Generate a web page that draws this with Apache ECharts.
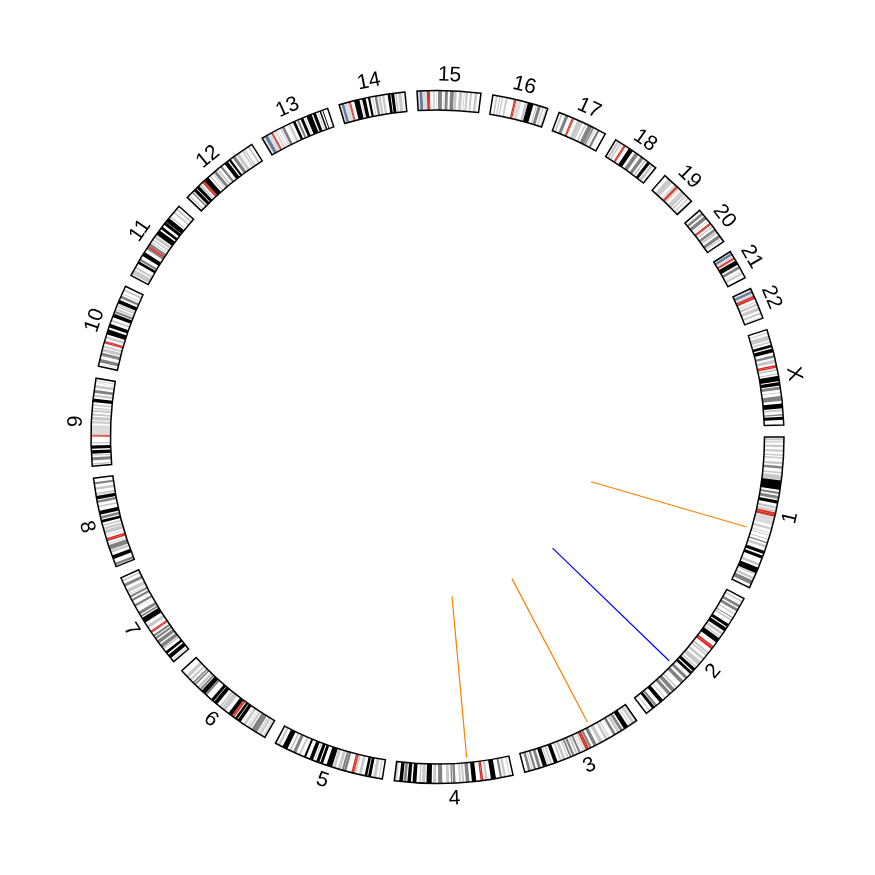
<!DOCTYPE html>
<html><head><meta charset="utf-8">
<script src="https://cdn.jsdelivr.net/npm/echarts@6/dist/echarts.min.js"></script>
<style>html,body{margin:0;padding:0;background:#fff}#c{width:875px;height:875px}</style>
</head><body><div id="c"></div>
<script>
// ---------- DATA ----------
const chromNames = ['1','2','3','4','5','6','7','8','9','10','11','12','13','14','15','16','17','18','19','20','21','22','X'];
const chromLengths = [249.25,243.2,198.0,191.15,180.9,171.1,159.1,146.4,141.2,135.5,135.0,133.9,115.2,107.3,102.5,90.4,81.2,78.1,59.1,63.0,48.1,51.3,155.3]; // Mb

// cytobands: [band end (Mb), stain]
const chr1Bands = [[2.3,'n'],[5.4,'g25'],[7.2,'n'],[9.2,'g25'],[12.7,'n'],[16.2,'g50'],[20.4,'n'],[23.9,'g25'],[28,'n'],[30.2,'g25'],[32.4,'n'],[34.6,'g25'],[40.1,'n'],[44.1,'g25'],[46.8,'n'],[50.7,'g75'],[56.1,'n'],[59,'g50'],[61.3,'n'],[68.9,'g50'],[69.7,'n'],[84.9,'g100'],[88.4,'n'],[92,'g75'],[94.7,'n'],[99.7,'g75'],[102.2,'n'],[107.2,'g100'],[111.8,'n'],[116.1,'g50'],[117.8,'n'],[120.7,'g50'],[121.5,'n'],[125,'acen'],[128.9,'acen'],[142.6,'gvar'],[147,'n'],[150.3,'g50'],[155,'n'],[156.5,'g50'],[159.1,'n'],[160.5,'g50'],[165.5,'n'],[167.2,'g50'],[170.9,'n'],[172.9,'g75'],[176,'n'],[180.3,'g50'],[185.8,'n'],[190.8,'g100'],[193.8,'n'],[198.7,'g100'],[207.2,'n'],[211.5,'g25'],[214.5,'n'],[224.1,'g100'],[224.6,'n'],[227,'g25'],[230.7,'n'],[234.7,'g50'],[236.6,'n'],[243.7,'g75'],[249.25,'n']];
const chr2Bands = [[4.4,'n'],[7.1,'g50'],[12.2,'n'],[16.7,'g75'],[19.2,'n'],[24,'g75'],[27.9,'n'],[30,'g25'],[35.1,'n'],[36.6,'g75'],[38.6,'n'],[41.6,'g50'],[47.8,'n'],[52.9,'g100'],[55,'n'],[61.3,'g100'],[64.1,'n'],[68.6,'g50'],[71.5,'n'],[73.5,'g50'],[75,'n'],[83.3,'g100'],[90.5,'n'],[93.3,'acen'],[96.8,'acen'],[102.7,'n'],[106,'g50'],[107.5,'n'],[110.2,'g25'],[114.4,'n'],[118.8,'g50'],[122.4,'n'],[129.9,'g50'],[132.5,'n'],[135.1,'g25'],[136.8,'n'],[142.2,'g100'],[144.1,'n'],[148.7,'g100'],[149.9,'n'],[150.5,'g25'],[154.9,'n'],[159.8,'g75'],[163.7,'n'],[169.7,'g75'],[178,'n'],[180.6,'g50'],[183,'n'],[189.4,'g75'],[191.9,'n'],[197.4,'g75'],[203.3,'n'],[204.9,'g50'],[209,'n'],[215.3,'g100'],[221.5,'n'],[225.2,'g75'],[226.1,'n'],[231,'g100'],[235.6,'n'],[237.3,'g50'],[243.2,'n']];
const chr3Bands = [[2.8,'g50'],[4,'n'],[8.7,'g50'],[11.8,'n'],[13.3,'g25'],[16.4,'n'],[23.9,'g100'],[26.4,'n'],[30.9,'g75'],[32.1,'n'],[36.5,'g50'],[39.3,'n'],[43.7,'g75'],[44.1,'n'],[44.2,'g50'],[50.6,'n'],[52.3,'g25'],[54.4,'n'],[58.6,'g50'],[63.7,'n'],[69.8,'g50'],[74.2,'n'],[79.8,'g75'],[83.5,'n'],[87.2,'g75'],[87.9,'n'],[91,'acen'],[93.9,'acen'],[98.3,'gvar'],[100,'n'],[100.9,'g25'],[102.8,'n'],[106.2,'g75'],[107.9,'n'],[111.3,'g50'],[113.5,'n'],[117.3,'g75'],[119,'n'],[121.9,'g75'],[123.8,'n'],[125.8,'g25'],[129.2,'n'],[133.7,'g25'],[135.7,'n'],[138.7,'g25'],[142.8,'n'],[148.9,'g100'],[152.1,'n'],[155,'g50'],[157,'n'],[159,'g50'],[160.7,'n'],[167.6,'g100'],[170.9,'n'],[175.7,'g75'],[179,'n'],[182.7,'g75'],[184.5,'n'],[186,'g25'],[187.9,'n'],[192.3,'g75'],[198,'n']];
const chr4Bands = [[4.5,'n'],[6,'g25'],[11.3,'n'],[15.2,'g50'],[17.8,'n'],[21.3,'g75'],[27.7,'n'],[35.8,'g100'],[41.2,'n'],[44.6,'g50'],[48.2,'n'],[50.4,'acen'],[52.7,'acen'],[59.5,'n'],[66.6,'g100'],[70.5,'n'],[76.3,'g75'],[78.9,'n'],[82.4,'g50'],[84.1,'n'],[86.9,'g25'],[92.8,'n'],[96.8,'g75'],[97.9,'n'],[100.1,'g75'],[103,'n'],[107.7,'g50'],[114.1,'n'],[120.8,'g75'],[123.8,'n'],[128.8,'g50'],[131.1,'n'],[139.5,'g100'],[141.5,'n'],[146.8,'g25'],[148.5,'n'],[151.1,'g25'],[155.6,'n'],[161.8,'g100'],[164.5,'n'],[170.1,'g100'],[171.9,'n'],[176.3,'g75'],[177.5,'n'],[183.2,'g100'],[187.1,'n'],[191.15,'g25']];
const chr5Bands = [[4.5,'n'],[6.3,'g25'],[9.8,'n'],[15,'g50'],[18.4,'n'],[23.3,'g100'],[24.6,'n'],[28.9,'g100'],[33.8,'n'],[38.4,'g25'],[42.5,'n'],[46.1,'g50'],[48.4,'acen'],[50.7,'acen'],[58.9,'n'],[62.9,'g75'],[63.2,'n'],[66.7,'g75'],[68.4,'n'],[73.3,'g50'],[76.9,'n'],[81.4,'g50'],[82.8,'n'],[92.3,'g100'],[98.2,'n'],[102.8,'g100'],[104.5,'n'],[109.6,'g100'],[111.5,'n'],[113.1,'g50'],[115.2,'n'],[121.4,'g100'],[127.3,'n'],[130.6,'g100'],[136.2,'n'],[139.5,'g25'],[144.5,'n'],[149.8,'g75'],[152.7,'n'],[155.7,'g50'],[159.9,'n'],[168.5,'g100'],[172.8,'n'],[176.6,'g25'],[180.9,'n']];
const chr6Bands = [[2.3,'n'],[4.2,'g25'],[7.1,'n'],[10.6,'g50'],[11.6,'n'],[13.4,'g25'],[15.2,'n'],[25.2,'g75'],[27,'n'],[30.4,'g50'],[32.1,'n'],[33.5,'g25'],[36.6,'n'],[40.5,'g25'],[46.2,'n'],[51.8,'g100'],[52.9,'n'],[57,'g100'],[58.7,'n'],[61,'acen'],[63.3,'acen'],[63.4,'n'],[70,'g100'],[75.9,'n'],[83.9,'g50'],[84.9,'n'],[88,'g50'],[93.1,'n'],[99.5,'g100'],[100.6,'n'],[105.5,'g100'],[114.6,'n'],[118.3,'g75'],[118.5,'n'],[126.1,'g100'],[127.1,'n'],[130.3,'g75'],[131.2,'n'],[135.2,'g50'],[139,'n'],[141.7,'g75'],[143,'n'],[145.6,'g75'],[149,'n'],[152.5,'g50'],[155.5,'n'],[161,'g50'],[171.1,'n']];
const chr7Bands = [[2.8,'n'],[4.5,'g25'],[7.3,'n'],[13.8,'g100'],[16.5,'n'],[20.9,'g100'],[25.5,'n'],[28,'g50'],[28.8,'n'],[35,'g75'],[37.2,'n'],[43.3,'g75'],[45.4,'n'],[49,'g75'],[50.5,'n'],[54,'g75'],[58,'n'],[59.9,'acen'],[61.7,'acen'],[67,'n'],[72.2,'g50'],[77.5,'n'],[86.4,'g100'],[88.2,'n'],[91.1,'g75'],[92.8,'n'],[98,'g75'],[103.8,'n'],[104.5,'g50'],[107.4,'n'],[111.2,'g75'],[117.4,'n'],[121.1,'g75'],[123.8,'n'],[127.1,'g75'],[129.2,'n'],[130.4,'g25'],[132.6,'n'],[138.2,'g50'],[143.4,'n'],[148,'g75'],[152.6,'n'],[155.1,'g25'],[159.1,'n']];
const chr8Bands = [[2.2,'n'],[6.2,'g75'],[12.7,'n'],[19,'g100'],[23.3,'n'],[27.4,'g50'],[28.8,'n'],[36.5,'g75'],[38.3,'n'],[39.7,'g25'],[43.1,'n'],[45.6,'acen'],[48.1,'acen'],[52.2,'n'],[52.6,'g75'],[55.5,'n'],[61.6,'g50'],[62.2,'n'],[66,'g50'],[68,'n'],[70.5,'g50'],[73.9,'n'],[78.3,'g100'],[80.1,'n'],[84.6,'g75'],[86.9,'n'],[93.3,'g100'],[99,'n'],[101.6,'g25'],[106.2,'n'],[110.5,'g75'],[112.1,'n'],[117.7,'g100'],[119.2,'n'],[122.5,'g50'],[127.3,'n'],[131.5,'g50'],[136.4,'n'],[139.9,'g75'],[146.4,'n']];
const chr9Bands = [[2.2,'n'],[4.6,'g25'],[9,'n'],[14.2,'g75'],[16.6,'n'],[18.5,'g25'],[19.9,'n'],[25.6,'g100'],[28,'n'],[33.2,'g100'],[36.3,'n'],[38.4,'g25'],[47.3,'n'],[49,'acen'],[50.7,'acen'],[65.9,'gvar'],[68.7,'n'],[72.2,'g25'],[74,'n'],[79.2,'g50'],[81.1,'n'],[84.1,'g50'],[86.9,'n'],[90.4,'g50'],[91.8,'n'],[93.9,'g25'],[96.6,'n'],[99.3,'g25'],[102.6,'n'],[108.2,'g100'],[111.3,'n'],[114.9,'g25'],[117.8,'n'],[122.5,'g75'],[125.8,'n'],[130.3,'g25'],[133.5,'n'],[134,'g25'],[135.9,'n'],[137.4,'g25'],[141.2,'n']];
const chr10Bands = [[3,'n'],[3.8,'g25'],[6.6,'n'],[12.2,'g75'],[17.3,'n'],[18.6,'g75'],[18.7,'n'],[22.6,'g75'],[24.6,'n'],[29.6,'g50'],[31.3,'n'],[34.4,'g25'],[38,'n'],[40.2,'acen'],[42.3,'acen'],[46.1,'n'],[49.9,'g25'],[52.9,'n'],[61.2,'g100'],[64.5,'n'],[70.6,'g100'],[74.9,'n'],[77.7,'g50'],[82,'n'],[87.9,'g100'],[89.5,'n'],[92.9,'g75'],[94.1,'n'],[97,'g50'],[99.3,'n'],[101.9,'g50'],[103,'n'],[104.9,'g25'],[105.8,'n'],[111.9,'g100'],[114.9,'n'],[119.1,'g75'],[121.7,'n'],[123.1,'g50'],[127.5,'n'],[130.6,'g50'],[135.5,'n']];
const chr11Bands = [[2.8,'n'],[10.7,'g50'],[12.7,'n'],[16.2,'g50'],[21.7,'n'],[26.1,'g100'],[27.2,'n'],[31,'g75'],[36.4,'n'],[43.4,'g100'],[48.8,'n'],[51.6,'g75'],[53.7,'acen'],[55.7,'acen'],[59.9,'g75'],[61.7,'n'],[63.4,'g25'],[65.9,'n'],[68.4,'g25'],[70.4,'n'],[75.2,'g50'],[77.1,'n'],[85.6,'g100'],[88.3,'n'],[92.8,'g100'],[97.2,'n'],[102.1,'g100'],[102.9,'n'],[110.4,'g100'],[112.5,'n'],[114.5,'g50'],[121.2,'n'],[123.9,'g50'],[127.8,'n'],[130.8,'g50'],[135,'n']];
const chr12Bands = [[3.3,'n'],[5.4,'g25'],[10.1,'n'],[12.8,'g75'],[14.8,'n'],[20,'g100'],[21.3,'n'],[26.5,'g100'],[27.8,'n'],[30.7,'g50'],[33.3,'n'],[35.8,'acen'],[38.2,'acen'],[46.4,'g100'],[49.1,'n'],[51.5,'g25'],[54.9,'n'],[56.6,'g25'],[58.1,'n'],[63.1,'g75'],[65.1,'n'],[67.7,'g50'],[71.5,'n'],[75.3,'g75'],[80.3,'n'],[86.7,'g100'],[89,'n'],[92.6,'g100'],[96.2,'n'],[101.6,'g75'],[103.8,'n'],[109,'g50'],[111.7,'n'],[112.3,'g25'],[114.3,'n'],[116.8,'g50'],[118.1,'n'],[120.7,'g50'],[125.9,'n'],[129.3,'g50'],[133.9,'n']];
const chr13Bands = [[4.5,'gvar'],[10,'stalk'],[16.3,'gvar'],[17.9,'acen'],[19.5,'acen'],[23.3,'n'],[25.5,'g25'],[27.8,'n'],[28.9,'g25'],[32.2,'n'],[34,'g50'],[35.5,'n'],[40.1,'g75'],[45.2,'n'],[45.8,'g25'],[47.3,'n'],[50.9,'g50'],[55.3,'n'],[59.6,'g100'],[62.3,'n'],[65.7,'g75'],[68.6,'n'],[73.3,'g100'],[75.4,'n'],[76.5,'g50'],[78.8,'n'],[87.7,'g100'],[90,'n'],[95,'g100'],[98.1,'n'],[99.6,'g25'],[101.3,'n'],[103.7,'g100'],[106,'n'],[107.4,'g100'],[115.2,'n']];
const chr14Bands = [[3.7,'gvar'],[8.1,'stalk'],[16.1,'gvar'],[17.6,'acen'],[19.1,'acen'],[24.6,'n'],[33.3,'g100'],[35.3,'n'],[36.6,'g50'],[37.8,'n'],[43.5,'g100'],[47.2,'n'],[50.9,'g100'],[54.1,'n'],[55.5,'g25'],[58.1,'n'],[62.1,'g75'],[64.1,'n'],[67.9,'g50'],[70.2,'n'],[73.8,'g50'],[79.3,'n'],[83.6,'g100'],[84.9,'n'],[89.8,'g100'],[91.4,'n'],[94,'g25'],[96.3,'n'],[101.4,'g50'],[103.2,'n'],[104,'g50'],[107.3,'n']];
const chr15Bands = [[3.9,'gvar'],[8.7,'stalk'],[15.8,'gvar'],[19,'acen'],[20.7,'acen'],[25.7,'n'],[28.1,'g50'],[30.3,'n'],[31.2,'g50'],[33.6,'n'],[40.1,'g75'],[42.8,'n'],[43.6,'g25'],[44.8,'n'],[49.5,'g75'],[52.9,'n'],[59.1,'g75'],[59.3,'n'],[63.7,'g25'],[67.2,'n'],[67.3,'g25'],[67.5,'n'],[72.7,'g25'],[75.2,'n'],[76.6,'g25'],[78.3,'n'],[81.7,'g50'],[85.2,'n'],[88.3,'g50'],[92.7,'n'],[96.8,'g50'],[102.5,'n']];
const chr16Bands = [[5,'n'],[7.9,'g50'],[10.5,'n'],[12.6,'g50'],[14.8,'n'],[16.8,'g50'],[21.2,'n'],[24.2,'g50'],[34.6,'n'],[36.6,'acen'],[38.6,'acen'],[47,'gvar'],[52.6,'n'],[56.7,'g50'],[57.4,'n'],[66.7,'g100'],[70.8,'n'],[72.9,'g50'],[74.1,'n'],[79.2,'g75'],[81.7,'n'],[84.2,'g50'],[87.1,'n'],[88.7,'g25'],[90.4,'n']];
const chr17Bands = [[3.3,'n'],[6.5,'g50'],[10.7,'n'],[16,'g75'],[22.2,'n'],[24,'acen'],[25.8,'acen'],[31.8,'n'],[38.1,'g50'],[38.4,'n'],[40.9,'g25'],[44.9,'n'],[47.4,'g25'],[50.2,'n'],[57.6,'g75'],[58.3,'n'],[61.1,'g75'],[62.6,'n'],[64.2,'g50'],[67.1,'n'],[70.9,'g75'],[74.8,'n'],[75.3,'g25'],[81.2,'n']];
const chr18Bands = [[2.9,'n'],[7.1,'g50'],[8.5,'n'],[10.9,'g25'],[15.4,'n'],[17.2,'acen'],[19,'acen'],[25,'n'],[32.7,'g100'],[37.2,'n'],[43.5,'g75'],[48.2,'n'],[53.8,'g75'],[56.2,'n'],[59,'g50'],[61.6,'n'],[66.8,'g100'],[68.7,'n'],[73.1,'g25'],[78.1,'n']];
const chr19Bands = [[6.9,'n'],[13.9,'g25'],[14,'n'],[16.3,'g25'],[20,'n'],[24.4,'gvar'],[26.5,'acen'],[28.6,'acen'],[32.4,'gvar'],[35.5,'n'],[38.3,'g25'],[38.7,'n'],[43.4,'g25'],[45.2,'n'],[48,'g25'],[51.4,'n'],[53.6,'g25'],[56.3,'n'],[59.1,'g25']];
const chr20Bands = [[5.1,'n'],[9.2,'g75'],[12.1,'n'],[17.9,'g75'],[21.3,'n'],[22.3,'g25'],[25.6,'n'],[27.5,'acen'],[29.4,'acen'],[32.1,'n'],[34.4,'g25'],[37.6,'n'],[41.7,'g75'],[42.1,'n'],[46.4,'g25'],[49.8,'n'],[55,'g75'],[56.5,'n'],[58.4,'g50'],[63,'n']];
const chr21Bands = [[2.8,'gvar'],[6.8,'stalk'],[10.9,'gvar'],[13.2,'acen'],[14.3,'acen'],[16.4,'n'],[24,'g100'],[26.8,'n'],[31.5,'g75'],[35.3,'n'],[36.4,'g50'],[38.3,'n'],[41.6,'g50'],[48.1,'n']];
const chr22Bands = [[3.8,'gvar'],[8.3,'stalk'],[12.2,'gvar'],[14.7,'acen'],[17.9,'acen'],[22.2,'n'],[23.5,'g25'],[25.9,'n'],[29.6,'g50'],[32.2,'n'],[37.6,'g50'],[41,'n'],[44.2,'g50'],[48.4,'n'],[49.4,'g50'],[51.3,'n']];
const chrXBands = [[4.3,'n'],[6,'g50'],[9.5,'n'],[17.1,'g50'],[19.3,'n'],[21.9,'g50'],[24.9,'n'],[29.3,'g100'],[31.5,'n'],[37.6,'g100'],[42.4,'n'],[46.4,'g75'],[49.8,'n'],[54.8,'g25'],[58.1,'n'],[60.6,'acen'],[63,'acen'],[64.6,'n'],[67.8,'g50'],[71.8,'n'],[73.9,'g50'],[76,'n'],[84.6,'g100'],[86.2,'n'],[91.8,'g100'],[93.5,'n'],[98.3,'g75'],[102.6,'n'],[103.7,'g50'],[108.7,'n'],[116.5,'g75'],[120.9,'n'],[128.7,'g100'],[130.4,'n'],[133.6,'g25'],[138,'n'],[140.3,'g75'],[142.1,'n'],[147.1,'g100'],[155.3,'n']];

// radial line track: chromosome, position (Mb), value (0..1), colour
const lineChrom = ['1','2','3','4'];
const linePos = [157, 157, 71, 71.5];
const lineValue = [1, 1, 1, 1];
const lineColor = ['#FF8000', '#0000FF', '#FF8000', '#FF8000'];

// ---------- BUILD ----------
const chromBands = [chr1Bands,chr2Bands,chr3Bands,chr4Bands,chr5Bands,chr6Bands,chr7Bands,chr8Bands,chr9Bands,chr10Bands,chr11Bands,chr12Bands,chr13Bands,chr14Bands,chr15Bands,chr16Bands,chr17Bands,chr18Bands,chr19Bands,chr20Bands,chr21Bands,chr22Bands,chrXBands];
const stainColor = {n:'#FFFFFF', g25:'rgb(200,200,200)', g50:'rgb(200,200,200)', g75:'rgb(130,130,130)', g100:'#000000', gvar:'rgb(220,220,220)', acen:'rgb(217,47,39)', stalk:'rgb(100,127,164)'};
const GAP_DEG = 2;
const sumLen = chromLengths.reduce((a, b) => a + b, 0);
const TOTAL = sumLen * 360 / (360 - GAP_DEG * chromNames.length);
const GAP = TOTAL * GAP_DEG / 360;
const chromStart = [];
{ let acc = 0; chromLengths.forEach(l => { chromStart.push(acc); acc += l + GAP; }); }

const bandData = [], bandColors = [];
chromBands.forEach((bands, i) => {
  let s = 0;
  bands.forEach(([e, st]) => {
    if (st !== 'n') { bandData.push([1, chromStart[i] + s, chromStart[i] + e]); bandColors.push(stainColor[st]); }
    s = e;
  });
});
const chromData = chromNames.map((n, i) => [1, chromStart[i], chromStart[i] + chromLengths[i]]);
const lineData = lineChrom.map((c, i) => [lineValue[i], chromStart[chromNames.indexOf(c)] + linePos[i]]);

function arcGeom(params, api, a0, a1) {
  const cs = params.coordSys;
  const cx = cs.cx, cy = cs.cy;
  const pi0 = api.coord([0, a0]), po0 = api.coord([1, a0]), pi1 = api.coord([0, a1]);
  const r0 = Math.hypot(pi0[0] - cx, pi0[1] - cy);
  const r = Math.hypot(po0[0] - cx, po0[1] - cy);
  let s = Math.atan2(pi0[1] - cy, pi0[0] - cx);
  let e = Math.atan2(pi1[1] - cy, pi1[0] - cx);
  while (e < s) e += Math.PI * 2;
  return {cx, cy, r0, r, startAngle: s, endAngle: e, clockwise: true};
}

const chart = echarts.init(document.getElementById('c'), null, {renderer: 'canvas'});
const hiddenAngle = {type: 'value', min: 0, max: TOTAL, startAngle: 0, clockwise: true,
  axisLine: {show: false}, axisTick: {show: false}, axisLabel: {show: false}, splitLine: {show: false}};
const hiddenRadius = {type: 'value', min: 0, max: 1,
  axisLine: {show: false}, axisTick: {show: false}, axisLabel: {show: false}, splitLine: {show: false}};

chart.setOption({
  backgroundColor: '#ffffff',
  animation: false,
  polar: [
    {center: [437.5, 437], radius: [327, 346.5]},
    {center: [437.5, 437], radius: [160, 322]}
  ],
  angleAxis: [Object.assign({polarIndex: 0}, hiddenAngle), Object.assign({polarIndex: 1}, hiddenAngle)],
  radiusAxis: [Object.assign({polarIndex: 0}, hiddenRadius), Object.assign({polarIndex: 1}, hiddenRadius)],
  series: [
    {
      type: 'custom', coordinateSystem: 'polar', polarIndex: 0, silent: true,
      data: bandData, encode: {radius: 0, angle: [1, 2]},
      renderItem: (params, api) => ({
        type: 'sector',
        shape: arcGeom(params, api, api.value(1), api.value(2)),
        style: {fill: bandColors[params.dataIndex], lineWidth: 0}
      })
    },
    {
      type: 'custom', coordinateSystem: 'polar', polarIndex: 0, silent: true, z: 3,
      data: chromData, encode: {radius: 0, angle: [1, 2]},
      renderItem: (params, api) => {
        const g = arcGeom(params, api, api.value(1), api.value(2));
        const mid = (g.startAngle + g.endAngle) / 2;
        const lr = g.r + 15.5;
        let th = -mid;
        th = ((th % (2 * Math.PI)) + 2 * Math.PI) % (2 * Math.PI);
        const rot = (th > 0 && th < Math.PI) ? th - Math.PI / 2 : th + Math.PI / 2;
        return {
          type: 'group',
          children: [
            {type: 'sector', shape: g, style: {fill: 'none', stroke: '#000', lineWidth: 1.5}},
            {type: 'text', x: g.cx + lr * Math.cos(mid), y: g.cy + lr * Math.sin(mid), rotation: rot,
              style: {text: chromNames[params.dataIndex], x: 0, y: 0, fill: '#000',
                fontSize: 21, fontFamily: '"Liberation Sans", Arial, sans-serif',
                align: 'center', verticalAlign: 'middle', textAlign: 'center', textVerticalAlign: 'middle'}}
          ]
        };
      }
    },
    {
      type: 'custom', coordinateSystem: 'polar', polarIndex: 1, silent: true,
      data: lineData, encode: {radius: 0, angle: 1},
      renderItem: (params, api) => {
        const a = api.value(1);
        const p0 = api.coord([0, a]), p1 = api.coord([api.value(0), a]);
        return {type: 'line', shape: {x1: p0[0], y1: p0[1], x2: p1[0], y2: p1[1]},
          style: {stroke: lineColor[params.dataIndex], lineWidth: 1.2}};
      }
    }
  ]
});
</script>
</body></html>
